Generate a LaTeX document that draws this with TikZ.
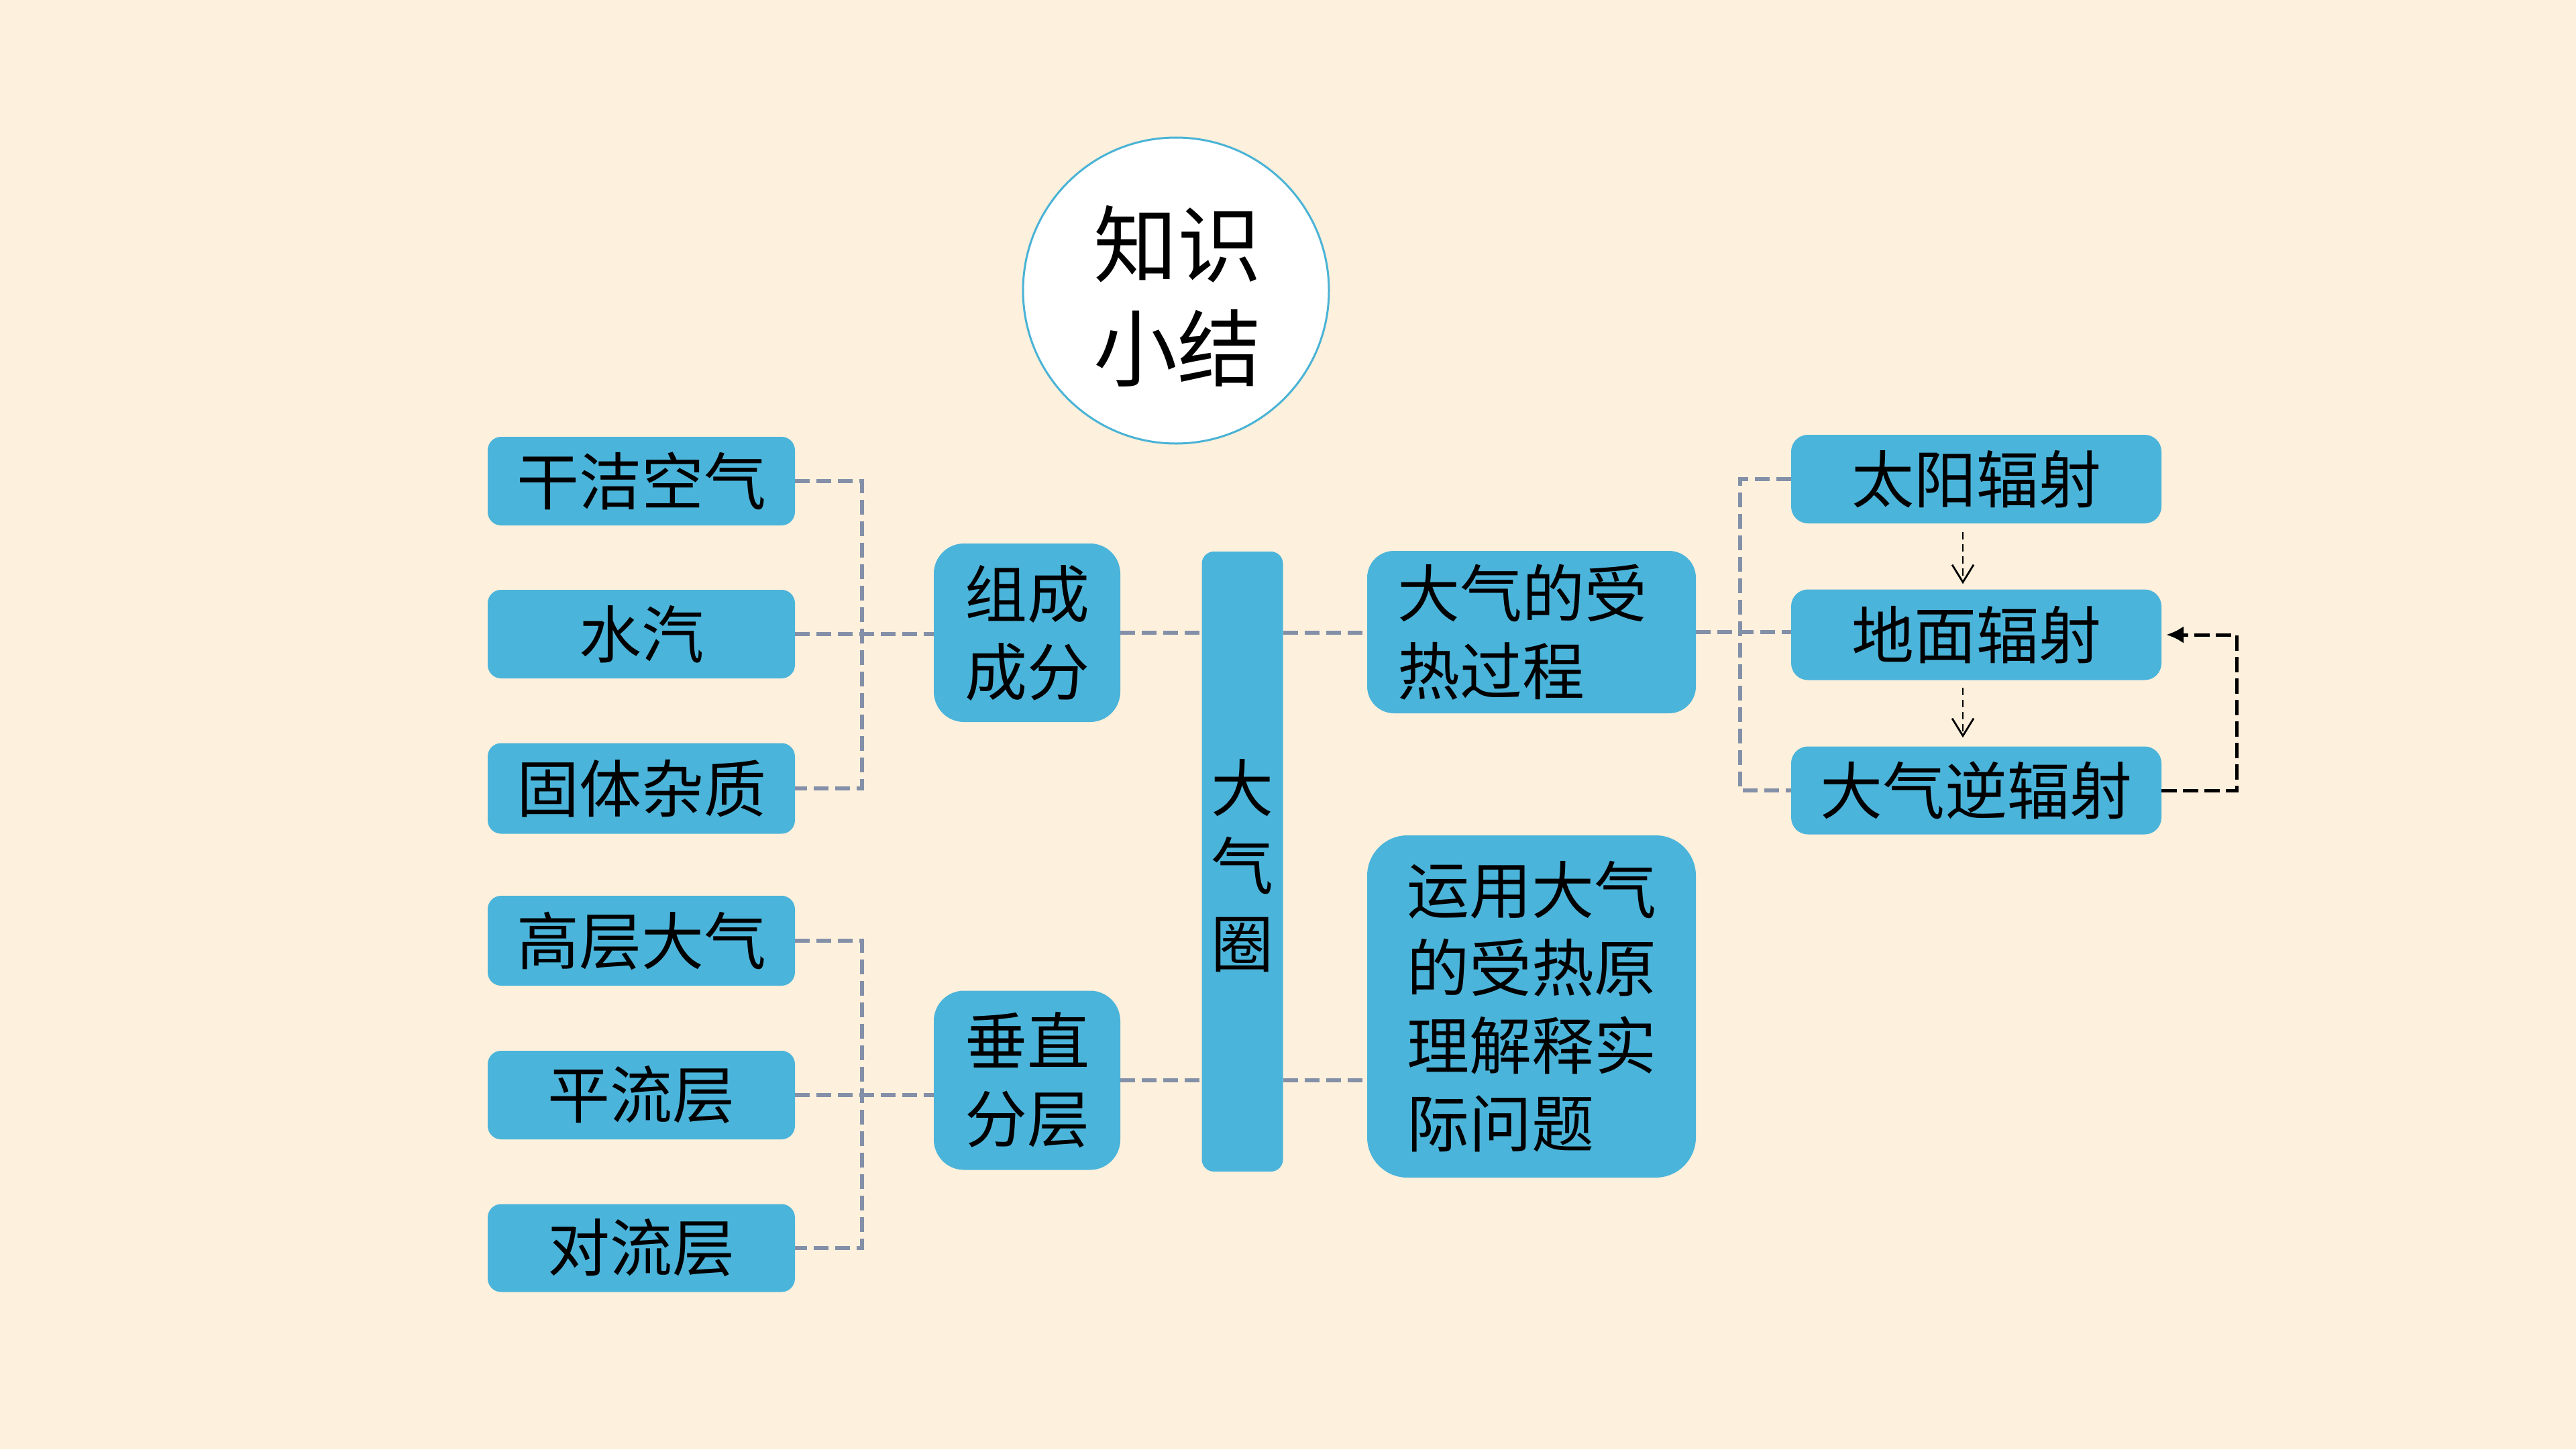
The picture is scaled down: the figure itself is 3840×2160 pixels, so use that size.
\documentclass[tikz,border=0pt]{standalone}
\usepackage{fontspec}
\setmainfont{Noto Sans CJK SC}
\usetikzlibrary{arrows.meta,calc}
\definecolor{bgc}{HTML}{FDF0DC}
\definecolor{boxc}{HTML}{4BB4DA}
\definecolor{connc}{HTML}{8490A8}
\definecolor{ringc}{HTML}{4AB3D6}
\tikzset{
  box/.style={rectangle, fill=boxc, text=black, inner sep=0pt, align=center,
    font=\fontsize{93pt}{116pt}\selectfont},
  leafbox/.style={box, rounded corners=20pt, minimum width=458pt, minimum height=132pt},
  rightbox/.style={box, rounded corners=25pt, minimum width=552pt, minimum height=133pt},
  midbox/.style={box, rounded corners=45pt, minimum width=278pt, minimum height=266pt},
  conn/.style={draw=connc, line width=5.5pt, dash pattern=on 22pt off 10pt},
  thinarrow/.style={draw=black, line width=2.8pt, dash pattern=on 11pt off 7pt,
    -{Straight Barb[length=26pt,width=32pt,line width=2.8pt]}},
  fbarrow/.style={draw=black, line width=5pt, dash pattern=on 23pt off 9pt,
    -{Latex[length=26pt,width=26pt]}}
}
\begin{document}
\begin{tikzpicture}[x=1pt,y=-1pt]
\path[use as bounding box, fill=bgc] (0,0) rectangle (3840,2160);

% title circle
\node[circle, fill=white, draw=ringc, line width=3pt, minimum size=456pt, inner sep=0pt] (title) at (1753,433) {};
\node[align=center, font=\fontsize{125pt}{155pt}\selectfont, text=black] (titletext) at (1755,441) {知识\\小结};

% left leaves
\node[leafbox] (g1) at (956,717) {干洁空气};
\node[leafbox] (g2) at (956,945) {水汽};
\node[leafbox, minimum height=135pt] (g3) at (956,1175) {固体杂质};
\node[leafbox, minimum height=134pt] (l1) at (956,1402) {高层大气};
\node[leafbox] (l2) at (956,1632) {平流层};
\node[leafbox, minimum height=131pt] (l3) at (956,1860) {对流层};

% middle boxes
\node[midbox] (c1) at (1531,943) {组成\\成分};
\node[midbox, minimum height=267pt] (c2) at (1531,1610) {垂直\\分层};

% central bar
\node[box, rounded corners=18pt, minimum width=121pt, minimum height=924pt] (bar) at (1852,1284) {};
\node[align=center, font=\fontsize{93pt}{116pt}\selectfont, text=black] (bartext) at (1852,1290) {大\\气\\圈};

% right-of-bar boxes
\node[box, rounded corners=40pt, minimum width=490pt, minimum height=242pt, text width=400pt, align=left] (h1) at (2283,942) {大气的受\\热过程};
\node[box, rounded corners=60pt, minimum width=490pt, minimum height=510pt, text width=372pt, align=left] (y1) at (2283,1500) {运用大气\\的受热原\\理解释实\\际问题};

% right column
\node[rightbox, minimum height=132pt] (r1) at (2946,714) {太阳辐射};
\node[rightbox, minimum height=135pt] (r2) at (2946,946) {地面辐射};
\node[rightbox, minimum height=131pt] (r3) at (2946,1178) {大气逆辐射};

% junction coordinates
\coordinate (ja) at (1285,945);
\coordinate (jb) at (1285,1625);
\coordinate (jc) at (2594,942);
\coordinate (fbc) at (3334,946);

% left connectors (composition)
\draw[conn] (g1.east) -| (ja) |- (g3.east);
\draw[conn] (g2.east) -- (g2.east -| c1.west);
% left connectors (layers)
\draw[conn] (l1.east) -| (jb) |- (l3.east);
\draw[conn] (l2.east) -- (l2.east -| c2.west);

% middle to bar and beyond
\draw[conn] (c1.east) -- (c1.east -| bar.west);
\draw[conn] (bar.east |- c1.east) -- (h1.west |- c1.east);
\draw[conn] (c2.east) -- (c2.east -| bar.west);
\draw[conn] (bar.east |- c2.east) -- (y1.west |- c2.east);

% heating process to right column
\draw[conn] (h1.east) -- (h1.east -| r2.west);
\draw[conn] (r1.west) -| (jc) |- (r3.west);

% arrows in right column
\draw[thinarrow, shorten <=13pt, shorten >=8pt] ([xshift=-20pt]r1.south) -- ([xshift=-20pt]r2.north);
\draw[thinarrow, shorten <=11pt, shorten >=13pt] ([xshift=-20pt]r2.south) -- ([xshift=-20pt]r3.north);
\draw[fbarrow] (r3.east) -| (fbc) -- ([xshift=7pt]r2.east);
\end{tikzpicture}
\end{document}
